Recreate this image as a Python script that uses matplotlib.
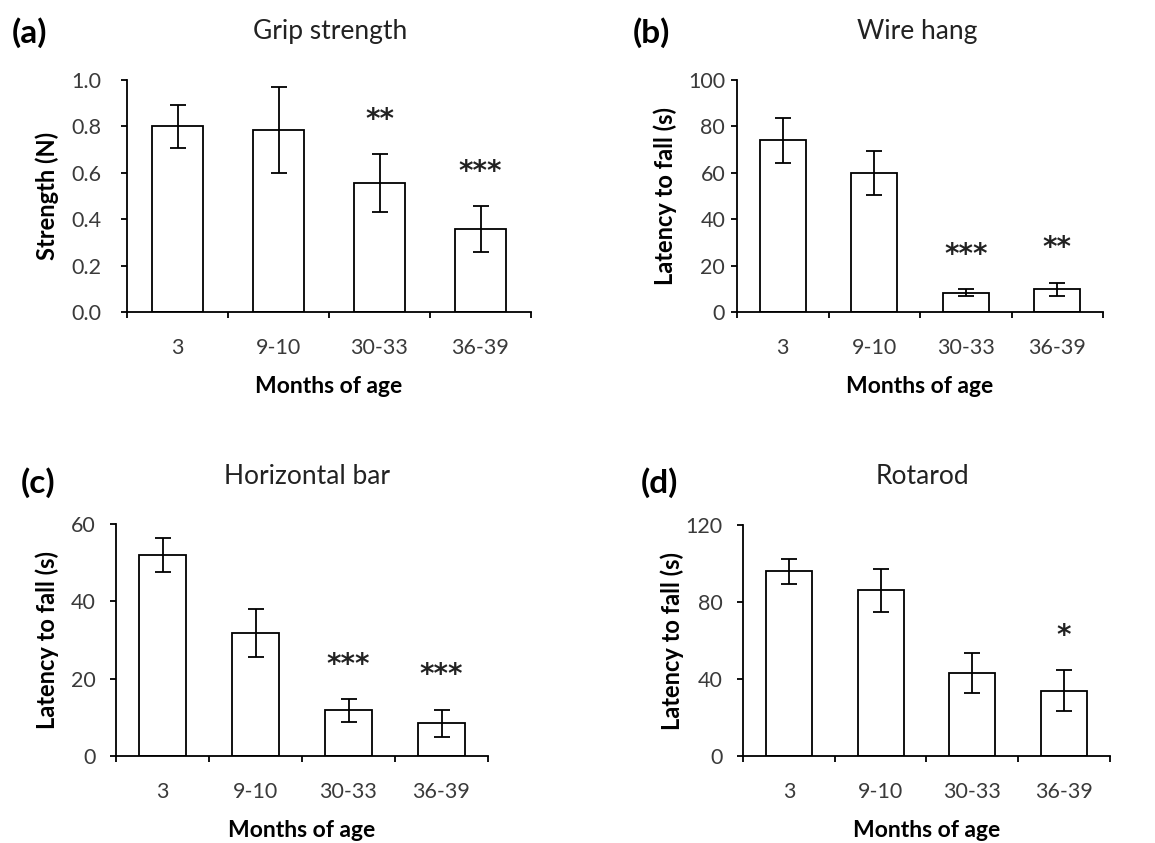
import matplotlib
matplotlib.use("Agg")
import matplotlib.pyplot as plt
import numpy as np

plt.rcParams['font.family'] = ['Lato', 'DejaVu Sans']

ages = ['3', '9-10', '30-33', '36-39']

grip_mean = [0.80, 0.785, 0.555, 0.358]
grip_err = [0.093, 0.185, 0.125, 0.099]
grip_stars = ['', '', '**', '***']

wire_mean = [74.0, 60.0, 8.3, 9.8]
wire_err = [9.8, 9.6, 1.5, 2.9]
wire_stars = ['', '', '***', '**']

hbar_mean = [52.0, 31.8, 11.8, 8.5]
hbar_err = [4.5, 6.3, 3.0, 3.5]
hbar_stars = ['', '', '***', '***']

rota_mean = [96.0, 86.0, 43.0, 34.0]
rota_err = [6.5, 11.0, 10.5, 10.5]
rota_stars = ['', '', '', '*']

panels = [
    # letter, title, ylabel, means, errs, stars, yticks, ytick labels
    ('(a)', 'Grip strength', 'Strength (N)', grip_mean, grip_err, grip_stars,
     [0, 0.2, 0.4, 0.6, 0.8, 1.0], ['0.0', '0.2', '0.4', '0.6', '0.8', '1.0']),
    ('(b)', 'Wire hang', 'Latency to fall (s)', wire_mean, wire_err, wire_stars,
     [0, 20, 40, 60, 80, 100], None),
    ('(c)', 'Horizontal bar', 'Latency to fall (s)', hbar_mean, hbar_err, hbar_stars,
     [0, 20, 40, 60], None),
    ('(d)', 'Rotarod', 'Latency to fall (s)', rota_mean, rota_err, rota_stars,
     [0, 40, 80, 120], None),
]

W, H = 1155, 843
fig = plt.figure(figsize=(W / 100, H / 100), dpi=100)

# axes boxes in pixels: left, right, top, bottom
boxes = [(127, 531, 80, 312), (737, 1103, 80, 312),
         (116, 488, 524, 756), (743, 1110, 525, 756)]
# label positions in pixels
letter_pos = [(12, 33), (633, 33), (21, 483), (641, 483)]
title_pos = [(330, 32), (917, 32), (307, 477), (922, 477)]
ylab_x = [47, 665, 47, 672]
ytick_pad = [14, 4, 10, 10]
tick_col = '#3a3a3a'

for (letter, title, ylab, means, errs, stars, yt, ytl), (l, r, t, b), lp, tp, yx, yp in zip(
        panels, boxes, letter_pos, title_pos, ylab_x, ytick_pad):
    ax = fig.add_axes([l / W, 1 - b / H, (r - l) / W, (b - t) / H])
    x = np.arange(len(ages))
    ax.bar(x, means, width=0.5, color='white', edgecolor='black', linewidth=1.3, zorder=2)
    ax.errorbar(x, means, yerr=errs, fmt='none', ecolor='black', elinewidth=1.3,
                capsize=6, capthick=1.3, zorder=3)
    ymax = yt[-1]
    for xi, m, e, s in zip(x, means, errs, stars):
        if s:
            ax.annotate(s, (xi, m + e + 0.185 * ymax), xytext=(0, -12),
                        textcoords='offset points', ha='center', va='baseline',
                        fontsize=20, fontweight='bold', color='#222222',
                        family='DejaVu Sans')
    ax.set_xlim(-0.5, 3.5)
    ax.set_ylim(0, ymax)
    ax.set_yticks(yt)
    if ytl:
        ax.set_yticklabels(ytl)
    ax.set_xticks(x)
    ax.set_xticklabels(ages)
    ax.set_xticks(np.arange(-0.5, 4, 1), minor=True)
    ax.tick_params(axis='x', which='major', length=0, pad=19, labelsize=15.5, labelcolor=tick_col)
    ax.tick_params(axis='x', which='minor', length=4.5, width=1.3, direction='out')
    ax.tick_params(axis='y', length=4.5, width=1.3, direction='out', pad=yp,
                   labelsize=15.5, labelcolor=tick_col)
    for sp in ['top', 'right']:
        ax.spines[sp].set_visible(False)
    for sp in ['left', 'bottom']:
        ax.spines[sp].set_linewidth(1.3)
    ax.set_xlabel('Months of age', fontsize=16.5, fontweight='bold', labelpad=13)
    fig.text(yx / W, 1 - ((t + b) / 2) / H, ylab, rotation=90, ha='center', va='center',
             fontsize=17, fontweight='bold')
    fig.text(lp[0] / W, 1 - lp[1] / H, letter, ha='left', va='center',
             fontsize=24, fontweight='bold')
    fig.text(tp[0] / W, 1 - tp[1] / H, title, ha='center', va='center',
             fontsize=19, color='#222222')

fig.savefig('out.png', dpi=100)
